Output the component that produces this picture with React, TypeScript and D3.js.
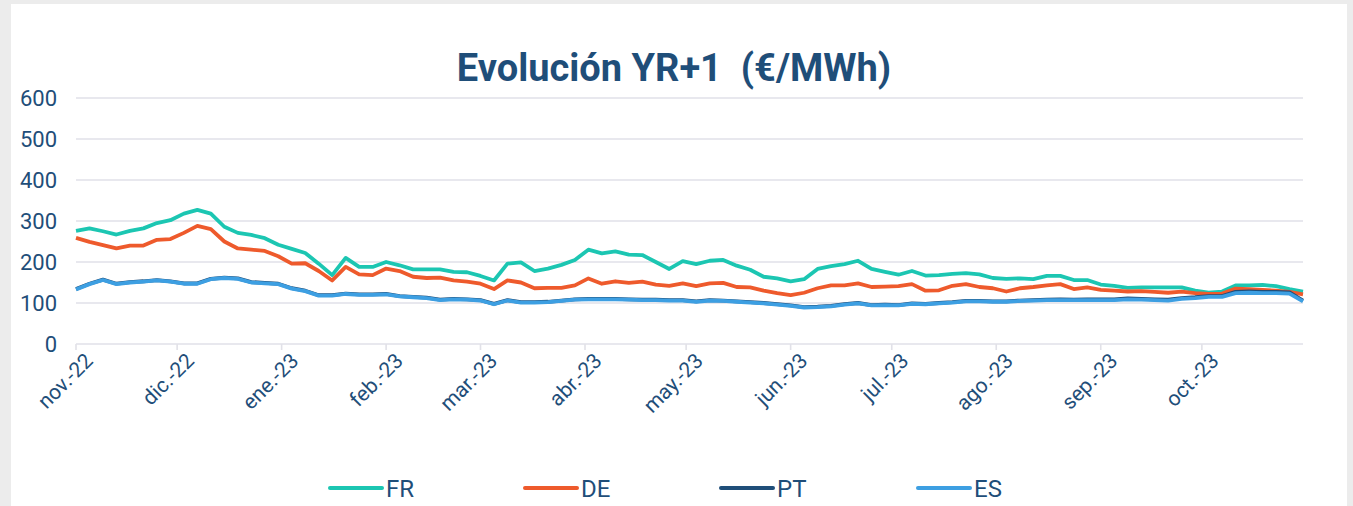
import React from 'react';
import * as d3 from 'd3';

// fechas (cada 4 días aprox.)
const dates = [
  '2022-11-01', '2022-11-05', '2022-11-09', '2022-11-13', '2022-11-17', '2022-11-21', '2022-11-25', '2022-11-29',
  '2022-12-03', '2022-12-07', '2022-12-11', '2022-12-15', '2022-12-19', '2022-12-23', '2022-12-27', '2022-12-31',
  '2023-01-04', '2023-01-08', '2023-01-12', '2023-01-16', '2023-01-20', '2023-01-24', '2023-01-28',
  '2023-02-01', '2023-02-05', '2023-02-09', '2023-02-13', '2023-02-17', '2023-02-21', '2023-02-25',
  '2023-03-01', '2023-03-05', '2023-03-09', '2023-03-13', '2023-03-17', '2023-03-21', '2023-03-25', '2023-03-29',
  '2023-04-02', '2023-04-06', '2023-04-10', '2023-04-14', '2023-04-18', '2023-04-22', '2023-04-26', '2023-04-30',
  '2023-05-04', '2023-05-08', '2023-05-12', '2023-05-16', '2023-05-20', '2023-05-24', '2023-05-28',
  '2023-06-01', '2023-06-05', '2023-06-09', '2023-06-13', '2023-06-17', '2023-06-21', '2023-06-25', '2023-06-29',
  '2023-07-03', '2023-07-07', '2023-07-11', '2023-07-15', '2023-07-19', '2023-07-23', '2023-07-27', '2023-07-31',
  '2023-08-04', '2023-08-08', '2023-08-12', '2023-08-16', '2023-08-20', '2023-08-24', '2023-08-28',
  '2023-09-01', '2023-09-05', '2023-09-09', '2023-09-13', '2023-09-17', '2023-09-21', '2023-09-25', '2023-09-29',
  '2023-10-03', '2023-10-07', '2023-10-11', '2023-10-15', '2023-10-19', '2023-10-23', '2023-10-27', '2023-10-31',
];

const fr = [
  276, 282, 275, 267, 276, 282, 295, 302, 318, 327, 318, 286, 271, 266, 258, 242,
  232, 222, 196, 168, 210, 188, 188, 200, 192, 182, 182, 182, 176, 175,
  166, 155, 196, 199, 178, 184, 193, 205, 230, 221, 226, 218, 217, 200, 183, 202,
  195, 203, 205, 191, 181, 164, 160, 153, 158, 183, 190, 195, 203, 183, 176,
  169, 178, 167, 168, 171, 173, 170, 161, 159, 160, 158, 166, 166, 156, 156,
  145, 142, 137, 138, 138, 138, 138, 130, 125, 128, 143, 143, 144, 141, 134, 128,
];

const de = [
  259, 249, 241, 233, 240, 240, 254, 256, 271, 288, 280, 250, 233, 230, 227, 214,
  196, 197, 178, 155, 188, 170, 168, 184, 178, 164, 161, 162, 155, 152,
  147, 134, 155, 150, 136, 137, 137, 143, 160, 147, 153, 149, 152, 145, 142, 148,
  141, 148, 149, 139, 138, 130, 124, 119, 125, 136, 143, 143, 148, 139, 140,
  141, 146, 130, 131, 142, 146, 139, 136, 128, 136, 139, 143, 146, 134, 138,
  132, 130, 128, 129, 127, 125, 128, 124, 122, 123, 135, 134, 132, 130, 127, 121,
];

const pt = [
  134, 147, 157, 147, 151, 153, 156, 153, 148, 148, 159, 162, 160, 151, 149, 147,
  136, 130, 119, 119, 123, 121, 121, 122, 117, 115, 113, 108, 110, 109,
  107, 98, 107, 102, 102, 103, 106, 109, 110, 110, 110, 109, 108, 108, 107, 107,
  104, 107, 106, 104, 102, 100, 97, 94, 90, 91, 93, 97, 100, 95, 96,
  95, 99, 98, 100, 102, 105, 105, 104, 104, 106, 107, 108, 109, 108, 109,
  109, 109, 111, 110, 109, 108, 112, 114, 117, 117, 127, 128, 127, 127, 126, 106,
];

const es = [
  133, 146, 156, 146, 150, 152, 155, 152, 147, 147, 158, 161, 159, 150, 148, 146,
  135, 129, 118, 118, 122, 120, 120, 121, 116, 114, 112, 107, 109, 108,
  106, 97, 106, 101, 101, 102, 105, 108, 109, 109, 109, 108, 107, 107, 106, 106,
  103, 106, 105, 103, 101, 99, 96, 93, 89, 90, 92, 96, 99, 94, 95,
  94, 98, 97, 99, 101, 104, 104, 103, 103, 105, 106, 107, 107, 107, 107,
  107, 107, 109, 108, 107, 106, 110, 112, 115, 115, 124, 125, 124, 124, 123, 104,
];

const yTicks = [0, 100, 200, 300, 400, 500, 600];
const monthTicks = [
  '2022-11-01', '2022-12-01', '2023-01-01', '2023-02-01', '2023-03-01', '2023-04-01',
  '2023-05-01', '2023-06-01', '2023-07-01', '2023-08-01', '2023-09-01', '2023-10-01',
];
const monthLabels = [
  'nov.-22', 'dic.-22', 'ene.-23', 'feb.-23', 'mar.-23', 'abr.-23',
  'may.-23', 'jun.-23', 'jul.-23', 'ago.-23', 'sep.-23', 'oct.-23',
];

const seriesNames = ['FR', 'DE', 'PT', 'ES'];
const seriesColors = ['#1cc6b2', '#ee5a2c', '#1f4e79', '#3d9fe2'];

const W = 1353;
const H = 506;
const margin = { top: 98, right: 50, bottom: 162, left: 76 };
const textColor = '#1f4e79';
const font = 'Roboto, "Noto Sans", sans-serif';

const App: React.FC = () => {
  const parse = d3.utcParse('%Y-%m-%d');
  const xDates = dates.map((d) => parse(d) as Date);

  const x = d3
    .scaleUtc()
    .domain([parse('2022-11-01') as Date, parse('2023-10-31') as Date])
    .range([margin.left, W - margin.right]);
  const y = d3.scaleLinear().domain([0, 600]).range([H - margin.bottom, margin.top]);

  const allSeries = [fr, de, pt, es];
  const line = d3
    .line<number>()
    .x((_, i) => x(xDates[i]))
    .y((v) => y(v));

  const legendX = [330, 525, 721, 918];

  return (
    <svg
      width={W}
      height={H}
      style={{ position: 'absolute', left: 0, top: 0, fontFamily: font }}
    >
      <rect x={0} y={0} width={W} height={H} fill="#ececec" />
      <rect x={11} y={4} width={1336} height={H} fill="#ffffff" />

      <text
        x={674}
        y={81}
        textAnchor="middle"
        fontSize={38}
        fontWeight="bold"
        fill={textColor}
        style={{ whiteSpace: 'pre' }}
      >
        {'Evolución YR+1  (€/MWh)'}
      </text>

      {yTicks.map((t) => (
        <g key={t}>
          <line
            x1={margin.left}
            x2={W - margin.right}
            y1={y(t)}
            y2={y(t)}
            stroke="#e1e1e8"
            strokeWidth={1.6}
          />
          <text x={57} y={y(t) + 8} textAnchor="end" fontSize={22} fill={textColor}>
            {t}
          </text>
        </g>
      ))}

      {monthTicks.map((m, i) => {
        const px = x(parse(m) as Date);
        return (
          <g key={m}>
            <line x1={px} x2={px} y1={y(0)} y2={y(0) + 6} stroke="#e1e1e8" strokeWidth={1.6} />
            <text
              transform={`translate(${px + 7},${y(0) + 7}) rotate(-45)`}
              textAnchor="end"
              dy="0.75em"
              fontSize={21}
              fill={textColor}
            >
              {monthLabels[i]}
            </text>
          </g>
        );
      })}

      {allSeries.map((s, i) => (
        <path
          key={seriesNames[i]}
          d={line(s) || ''}
          fill="none"
          stroke={seriesColors[i]}
          strokeWidth={3.8}
          strokeLinejoin="round"
        />
      ))}

      {seriesNames.map((n, i) => (
        <g key={n}>
          <line
            x1={legendX[i]}
            x2={legendX[i] + 52}
            y1={488}
            y2={488}
            stroke={seriesColors[i]}
            strokeWidth={4}
            strokeLinecap="round"
          />
          <text x={legendX[i] + 56} y={497} fontSize={24} fill={textColor}>
            {n}
          </text>
        </g>
      ))}
    </svg>
  );
};

export default App;
